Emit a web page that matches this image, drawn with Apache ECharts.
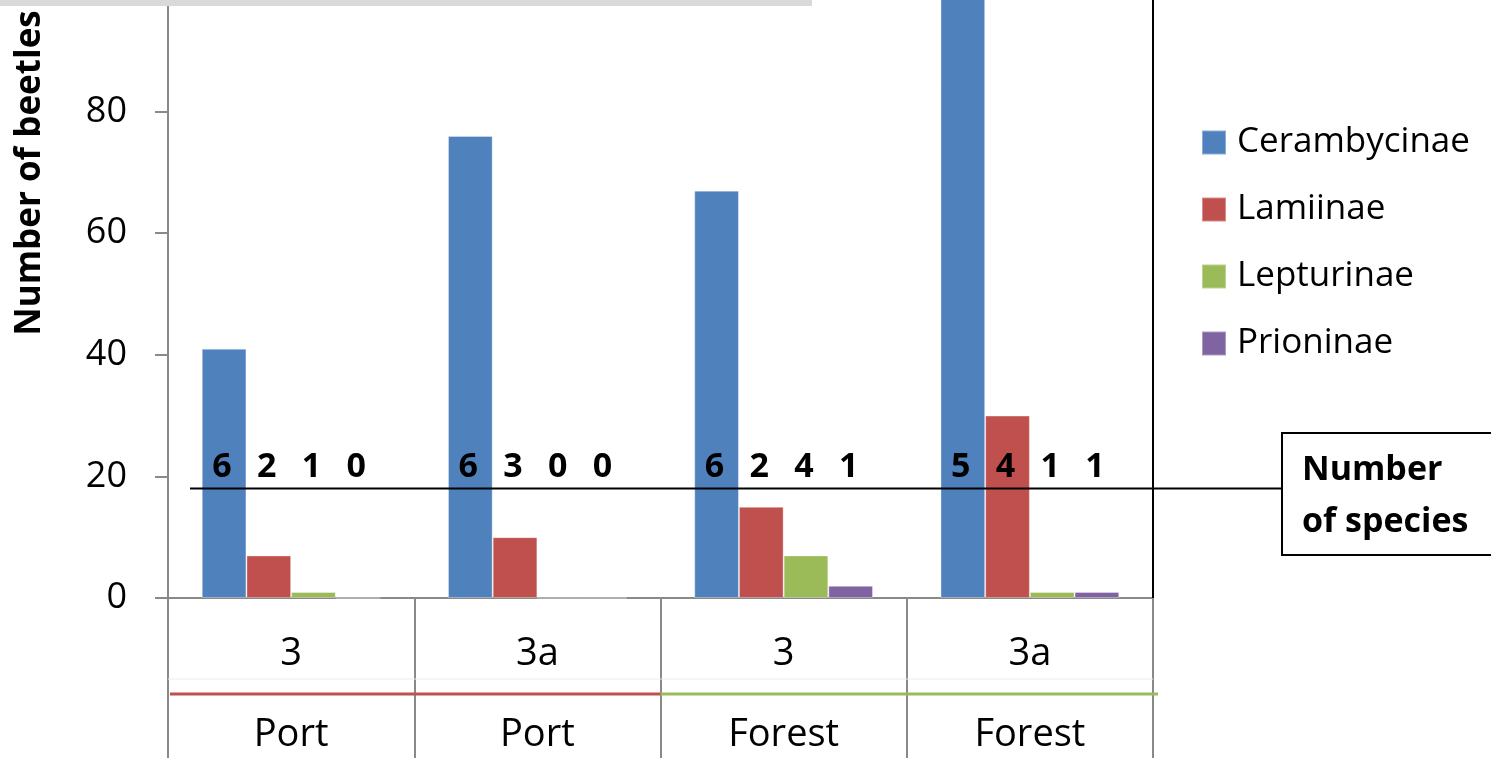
<!DOCTYPE html>
<html>
<head>
<meta charset="utf-8">
<title>Longhorn beetles by site and habitat</title>
<script src="https://cdn.jsdelivr.net/npm/echarts@6/dist/echarts.min.js"></script>
<style>
  html, body { margin: 0; padding: 0; background: #fff; }
  #chart { width: 1491px; height: 758px; }
</style>
</head>
<body>
<div id="chart"></div>
<script>
// Sampling sites (upper label row) and habitat (lower label row)
const sites = ['3', '3a', '3', '3a'];
const habitats = ['Port', 'Port', 'Forest', 'Forest'];
const categories = ['Port 3', 'Port 3a', 'Forest 3', 'Forest 3a'];

// Number of beetles per subfamily
const subfamilies = ['Cerambycinae', 'Lamiinae', 'Lepturinae', 'Prioninae'];
const cerambycinae = [41, 76, 67, 104];
const lamiinae = [7, 10, 15, 30];
const lepturinae = [1, 0, 7, 1];
const prioninae = [0, 0, 2, 1];

// Number of species per subfamily (printed above the bars)
const speciesCerambycinae = [6, 6, 6, 5];
const speciesLamiinae = [2, 3, 2, 4];
const speciesLepturinae = [1, 0, 4, 1];
const speciesPrioninae = [0, 0, 1, 1];

// Y-axis tick labels
const yTicks = [0, 20, 40, 60, 80];

const colors = ['#4f81bd', '#c0504d', '#9bbb59', '#8064a2'];
const habitatColors = { Port: '#c0504d', Forest: '#9bbb59' };
const FONT = '"Open Sans", "DejaVu Sans", sans-serif';
const AXIS_GREY = '#898989';
const GAP = 0.274;           // category gap share
const SPECIES_LEVEL = 21.5;  // where the species counts sit on the value axis
const SPECIES_LINE = 18;     // rule under the species counts

const barValues = [cerambycinae, lamiinae, lepturinae, prioninae];
const speciesValues = [speciesCerambycinae, speciesLamiinae, speciesLepturinae, speciesPrioninae];

const speciesData = [];
speciesValues.forEach((arr, k) => {
  arr.forEach((n, i) => speciesData.push([i, SPECIES_LEVEL, n, k]));
});

const chart = echarts.init(document.getElementById('chart'), null, { renderer: 'canvas' });

const barSeries = subfamilies.map((name, k) => ({
  name: name,
  type: 'bar',
  data: barValues[k],
  barGap: '0%',
  barCategoryGap: (GAP * 100) + '%',
  itemStyle: { color: colors[k], borderColor: 'rgba(255,255,255,0.35)', borderWidth: 1 },
  emphasis: { disabled: true },
  z: 2
}));

const option = {
  animation: false,
  backgroundColor: '#ffffff',
  textStyle: { fontFamily: FONT },
  grid: {
    left: 168, right: 338, top: -10, bottom: 160,
    outerBoundsMode: 'none',
    containLabel: false
  },
  legend: {
    orient: 'vertical',
    left: 1201,
    top: 122,
    padding: 0,
    itemWidth: 24,
    itemHeight: 24,
    itemGap: 26,
    icon: 'rect',
    data: subfamilies,
    textStyle: {
      fontFamily: FONT, fontSize: 35, color: '#000', lineHeight: 41,
      padding: [0, 0, 0, 6]
    },
    selectedMode: false
  },
  xAxis: {
    type: 'category',
    data: categories,
    axisLine: { show: true, lineStyle: { color: AXIS_GREY, width: 2 } },
    axisTick: {
      show: true, interval: 0, alignWithLabel: false, length: 160,
      lineStyle: { color: AXIS_GREY, width: 2 }
    },
    axisLabel: {
      interval: 0,
      margin: 15.5,
      formatter: (v, i) => '{a|' + sites[i] + '}\n{b|' + habitats[i] + '}',
      rich: {
        a: { fontFamily: FONT, fontSize: 38, color: '#000', lineHeight: 81, align: 'center' },
        b: { fontFamily: FONT, fontSize: 38, color: '#000', lineHeight: 81, align: 'center' }
      }
    },
    splitLine: { show: false }
  },
  yAxis: {
    type: 'value',
    min: 0,
    max: 100,
    interval: 20,
    axisLine: { show: true, lineStyle: { color: AXIS_GREY, width: 2 } },
    axisTick: { show: true, length: 13, lineStyle: { color: AXIS_GREY, width: 2 } },
    axisLabel: {
      showMaxLabel: false,
      margin: 41,
      fontFamily: FONT, fontSize: 36, color: '#000',
      formatter: v => (yTicks.indexOf(v) >= 0 ? String(v) : '')
    },
    splitLine: { show: false }
  },
  series: barSeries.concat([{
    name: 'species',
    type: 'custom',
    data: speciesData,
    encode: { x: 0, y: 1 },
    z: 5,
    silent: true,
    renderItem: function (params, api) {
      const pt = api.coord([api.value(0), api.value(1)]);
      const band = api.size([1, 0])[0];
      const barW = band * (1 - GAP) / subfamilies.length;
      const k = api.value(3);
      return {
        type: 'text',
        x: pt[0] + (k - (subfamilies.length - 1) / 2) * barW - 2,
        y: pt[1],
        style: {
          text: String(api.value(2)),
          fontFamily: FONT, fontSize: 34, fontWeight: 'bold',
          fill: '#000', align: 'center', verticalAlign: 'middle'
        }
      };
    }
  }])
};

chart.setOption(option);

// Decorations that depend on the axis geometry
const c0 = chart.convertToPixel({ xAxisIndex: 0 }, 0);
const c1 = chart.convertToPixel({ xAxisIndex: 0 }, 1);
const bw = c1 - c0;
const plotLeft = c0 - bw / 2;
const plotRight = plotLeft + bw * categories.length;
const zeroY = chart.convertToPixel({ yAxisIndex: 0 }, 0);
const ruleY = chart.convertToPixel({ yAxisIndex: 0 }, SPECIES_LINE);

const graphics = [];

// top band
graphics.push({
  type: 'rect', z: 100,
  shape: { x: 0, y: 0, width: 812, height: 6 },
  style: { fill: '#d9d9d9' }
});

// right edge of the plot area
graphics.push({
  type: 'line', z: 10,
  shape: { x1: plotRight, y1: 0, x2: plotRight, y2: zeroY },
  style: { stroke: '#000', lineWidth: 2 }
});

// faint divider between the two label rows
graphics.push({
  type: 'line', z: 1,
  shape: { x1: plotLeft, y1: zeroY + 81, x2: plotRight, y2: zeroY + 81 },
  style: { stroke: '#ececec', lineWidth: 1 }
});

// habitat underlines
habitats.forEach((h, i) => {
  const x1 = plotLeft + bw * i + (i === 0 ? 2 : 0);
  const x2 = plotLeft + bw * (i + 1) + (i === habitats.length - 1 ? 5 : 0);
  graphics.push({
    type: 'line', z: 3,
    shape: { x1: x1, y1: zeroY + 96, x2: x2, y2: zeroY + 96 },
    style: { stroke: habitatColors[h], lineWidth: 3 }
  });
});

// rule under the species counts, leading to the caption box
const boxX = 1282, boxY = 433, boxW = 230, boxH = 122;
graphics.push({
  type: 'line', z: 6,
  shape: { x1: plotLeft + 22, y1: ruleY, x2: boxX, y2: ruleY },
  style: { stroke: '#000', lineWidth: 2 }
});
graphics.push({
  type: 'rect', z: 6,
  shape: { x: boxX, y: boxY, width: boxW, height: boxH },
  style: { fill: '#fff', stroke: '#000', lineWidth: 2 }
});
graphics.push({
  type: 'text', z: 7,
  x: boxX + 20, y: boxY + 37,
  style: { text: 'Number', fontFamily: FONT, fontSize: 34, fontWeight: 'bold', fill: '#000', verticalAlign: 'middle' }
});
graphics.push({
  type: 'text', z: 7,
  x: boxX + 20, y: boxY + 89,
  style: { text: 'of species', fontFamily: FONT, fontSize: 34, fontWeight: 'bold', fill: '#000', verticalAlign: 'middle' }
});

// value-axis title
graphics.push({
  type: 'text', z: 7,
  x: 30, y: 173, rotation: Math.PI / 2,
  style: {
    text: 'Number of beetles', fontFamily: FONT, fontSize: 35, fontWeight: 'bold',
    fill: '#000', align: 'center', verticalAlign: 'middle'
  }
});

chart.setOption({ graphic: graphics });
</script>
</body>
</html>
